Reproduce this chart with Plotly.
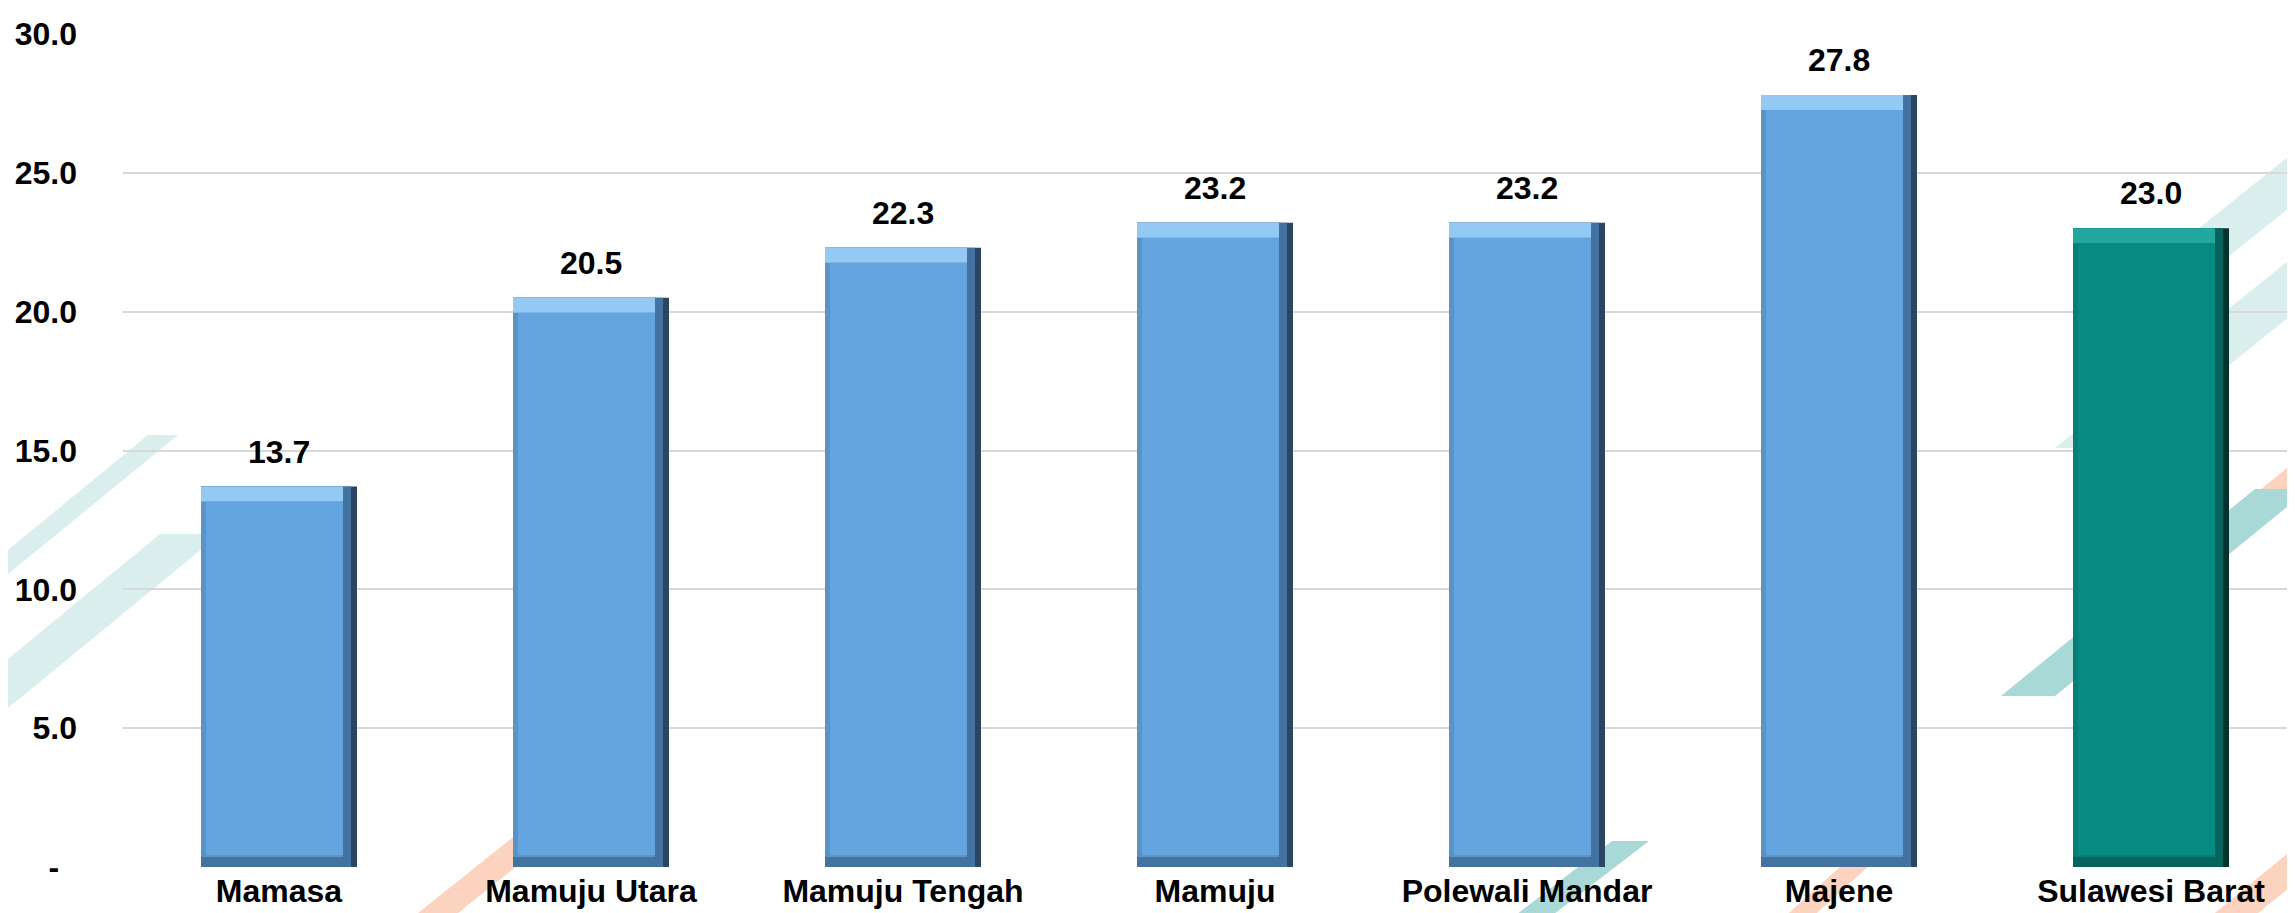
import plotly.graph_objects as go

# data
kabupaten = ['Mamasa', 'Mamuju Utara', 'Mamuju Tengah', 'Mamuju', 'Polewali Mandar', 'Majene', 'Sulawesi Barat']
nilai = [13.7, 20.5, 22.3, 23.2, 23.2, 27.8, 23.0]
y_ticks = [0, 5, 10, 15, 20, 25, 30]
y_ticktext = ['-\u00a0\u00a0', '5.0', '10.0', '15.0', '20.0', '25.0', '30.0']

W, H = 2295, 913
ML, MR, MT, MB = 115, 0, 26, 54
YMAX = 30
px_x = 1 / 312.0              # one pixel in category units
px_y = YMAX / (H - MT - MB)   # one pixel in value units

# colours per bar: (edge dark, bottom/right mid, left edge, top highlight, face)
biru = ('#2A4662', '#44739F', '#5A93C8', '#93C9F3', '#64A5DF')
hijau = ('#02332F', '#05625C', '#077E77', '#22A89F', '#078A82')
pal = [biru] * 6 + [hijau]

bw = 0.5
left = -bw / 2


def col(i):
    return [p[i] for p in pal]


fig = go.Figure()
# full bar (darkest right edge)
fig.add_trace(go.Bar(x=kabupaten, y=nilai, width=bw, offset=left, marker_color=col(0)))
# bottom / right gradient
fig.add_trace(go.Bar(x=kabupaten, y=nilai, width=bw - 6 * px_x, offset=left, marker_color=col(1)))
# left edge
fig.add_trace(go.Bar(x=kabupaten, y=[v - 10 * px_y for v in nilai], base=10 * px_y,
                     width=bw - 14 * px_x, offset=left, marker_color=col(2)))
# top highlight
fig.add_trace(go.Bar(x=kabupaten, y=[15 * px_y] * len(nilai), base=[v - 15 * px_y for v in nilai],
                     width=bw - 14 * px_x, offset=left, marker_color=col(3)))
# face
fig.add_trace(go.Bar(x=kabupaten, y=[v - 27 * px_y for v in nilai], base=12 * px_y,
                     width=bw - 19 * px_x, offset=left + 5 * px_x, marker_color=col(4)))
fig.update_traces(marker_line_width=0, hoverinfo='skip', showlegend=False)

for k, v in zip(kabupaten, nilai):
    fig.add_annotation(x=k, y=v, text=f'{v:.1f}', showarrow=False, yanchor='bottom', yshift=15,
                       font=dict(size=32, color='black', family='Arial, Liberation Sans', weight='bold'))


# decorative stripes in the background (pixel coords -> paper coords)
def poly(pts, color):
    p = ' L '.join(f'{(x - ML) / (W - ML - MR):.5f},{(H - MB - y) / (H - MT - MB):.5f}' for x, y in pts)
    fig.add_shape(type='path', path='M ' + p + ' Z', xref='paper', yref='paper',
                  fillcolor=color, line_width=0, layer='below')


teal_muda = '#DAEEEE'
teal = '#A9D9D6'
salem = '#FCD3BF'
poly([(140, 427), (170, 427), (0, 566), (0, 542)], teal_muda)
poly([(152, 526), (212, 526), (0, 700), (0, 651)], teal_muda)
poly([(504, 830), (544, 830), (440, 913), (400, 913)], salem)
poly([(1604, 833), (1641, 833), (1537, 913), (1500, 913)], teal)
poly([(1875, 820), (1903, 820), (1800, 913), (1772, 913)], salem)
poly([(2091, 300), (2156, 300), (2295, 189), (2295, 137)], teal_muda)
poly([(2047, 440), (2117, 440), (2295, 298), (2295, 241)], teal_muda)
poly([(2252, 482), (2295, 447), (2295, 485), (2252, 520)], salem)
poly([(1993, 688), (2047, 688), (2301, 481), (2247, 481)], teal)
poly([(2197, 913), (2240, 913), (2295, 869), (2295, 833)], salem)

fig.update_layout(
    width=W, height=H, barmode='overlay',
    margin=dict(l=ML, r=MR, t=MT, b=MB),
    paper_bgcolor='white', plot_bgcolor='rgba(0,0,0,0)',
    font=dict(family='Arial, Liberation Sans', size=32, color='black'),
)
fig.update_xaxes(range=[-0.5, -0.5 + (W - ML - MR) / 312.0], showgrid=False, ticks='',
                 tickfont=dict(size=32, weight='bold'), ticklabelstandoff=2,
                 showline=False, zeroline=False)
fig.update_yaxes(range=[0, YMAX], tickvals=y_ticks, ticktext=y_ticktext, ticks='',
                 tickfont=dict(size=32, weight='bold'), ticklabelstandoff=45,
                 showgrid=True, gridcolor='#D9D9D9', gridwidth=2, zeroline=False, showline=False)

fig.write_html('out.html')
